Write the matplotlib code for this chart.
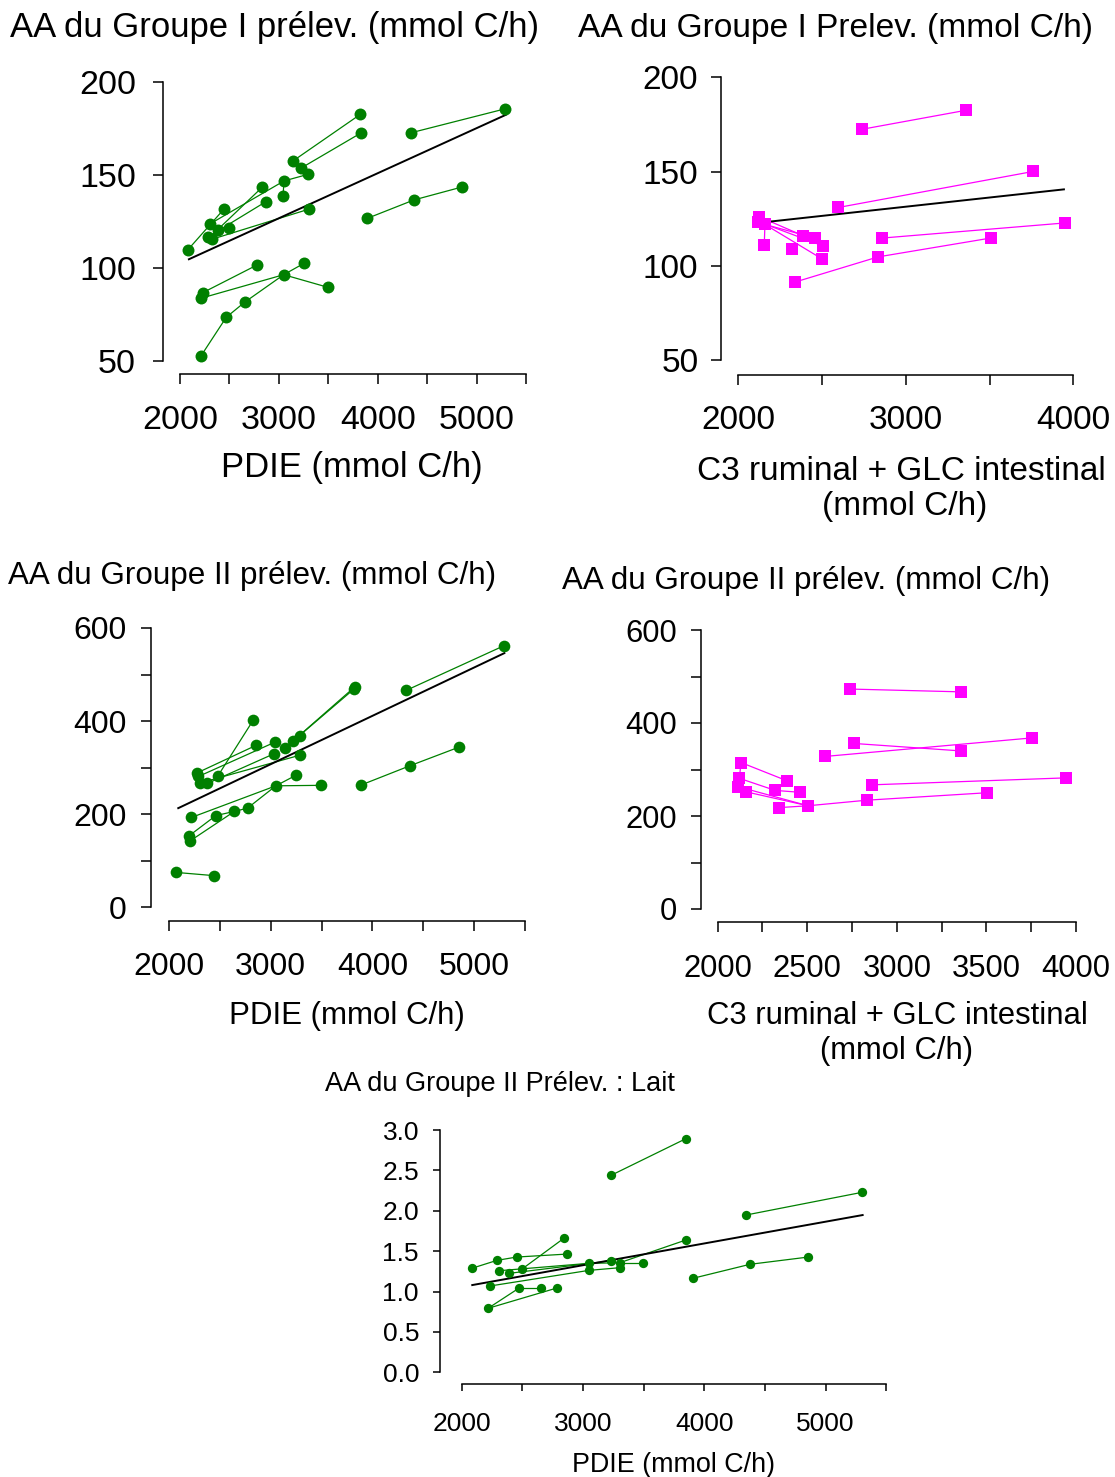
import matplotlib
matplotlib.use('Agg')
import matplotlib.pyplot as plt
from matplotlib.ticker import MultipleLocator, FormatStrFormatter, NullFormatter

plt.rcParams['font.family'] = ['Liberation Sans', 'DejaVu Sans']

# ---------------- DATA ----------------
# Panel 1 : AA Groupe I prélevés vs PDIE
pdie_g1 = [2078, 2303, 2445, 2381, 2492, 2287, 2320, 2833, 2867, 3052, 3042,
           3147, 3221, 3298, 3302, 3824, 3834, 4337, 5291, 3895, 4367, 4849,
           2212, 2468, 2654, 3049, 3254, 3497, 2779, 2229, 2209]
aa_g1 = [109.7, 123.7, 131.7, 120.6, 121.7, 116.8, 115.4, 143.5, 135.6, 146.8, 138.5,
         157.7, 153.6, 150.4, 131.6, 182.6, 172.7, 172.7, 185.6, 126.7, 136.6, 143.5,
         52.7, 73.5, 81.6, 96.4, 102.5, 89.6, 101.6, 86.7, 83.7]
links_g1 = [(0, 2), (1, 9), (3, 7), (5, 8), (6, 14), (9, 10), (9, 13), (11, 15), (12, 16),
            (17, 18), (19, 20), (20, 21), (22, 23), (23, 24), (24, 25), (25, 26),
            (25, 27), (29, 28), (30, 25)]
reg_g1_x = [2090, 5298]
reg_g1_y = [104.7, 182.4]

# Panel 2 : AA Groupe I prélevés vs C3 ruminal + GLC intestinal
c3glc_g1 = [2736, 3358, 3761, 2597, 3950, 2860, 3507, 2834, 2340, 2125, 2119,
            2159, 2155, 2319, 2388, 2458, 2507, 2499]
aa_g1_c3 = [172.4, 182.5, 150.1, 131.0, 122.8, 114.8, 114.8, 104.8, 91.5, 126.1, 123.5,
            122.0, 111.1, 109.0, 116.0, 114.8, 110.6, 103.8]
links_g1_c3 = [(0, 1), (3, 2), (5, 4), (8, 7), (7, 6), (9, 14), (11, 15), (10, 16),
               (11, 17), (11, 12)]
reg_g1_c3_x = [2125, 3944]
reg_g1_c3_y = [122.9, 140.6]

# Panel 3 : AA Groupe II prélevés vs PDIE
pdie_g2 = [2066, 2443, 5294, 4332, 4850, 4368, 3892, 3829, 3819, 3291, 3219,
           3140, 3044, 3034, 3291, 2828, 2857, 2279, 2289, 2305, 2377, 2483,
           3251, 3051, 3494, 2220, 2460, 2643, 2772, 2200, 2210]
aa_g2 = [75, 68, 562, 466, 344, 304, 263, 474, 469, 369, 357,
         342, 355, 330, 327, 402, 348, 289, 281, 267, 266, 283,
         284, 261, 262, 193, 197, 206, 213, 154, 143]
links_g2 = [(0, 1), (3, 2), (6, 5), (5, 4), (11, 7), (10, 8), (21, 15), (17, 16),
            (18, 12), (20, 13), (19, 14), (23, 22), (23, 24), (25, 23), (29, 26),
            (26, 27), (27, 28), (30, 27), (28, 23)]
reg_g2_x = [2091, 5297]
reg_g2_y = [213, 546]

# Panel 4 : AA Groupe II prélevés vs C3 ruminal + GLC intestinal
c3glc_g2 = [2738, 3356, 2761, 3356, 2597, 3756, 2130, 2385, 2121, 2115, 2158,
            2321, 2459, 2340, 2504, 2859, 3944, 2833, 3503]
aa_g2_c3 = [473, 467, 356, 340, 328, 368, 315, 276, 281, 263, 252,
            255, 251, 218, 222, 267, 282, 234, 250]
links_g2_c3 = [(0, 1), (2, 3), (4, 5), (15, 16), (13, 14), (14, 17), (17, 18),
               (6, 7), (6, 8), (8, 11), (11, 12), (9, 14), (10, 14)]

# Panel 5 : AA Groupe II prélevés : Lait vs PDIE
pdie_lait = [2082, 2291, 2453, 2870, 2841, 2310, 2390, 2497, 2231, 2217, 2470,
             2656, 2783, 3049, 3049, 3230, 3302, 3302, 3497, 3230, 3846, 3846,
             4343, 5299, 3904, 4376, 4857]
ratio_lait = [1.287, 1.386, 1.427, 1.464, 1.658, 1.258, 1.225, 1.278, 1.068, 0.792, 1.04,
              1.04, 1.043, 1.349, 1.262, 1.381, 1.356, 1.295, 1.356, 2.438, 2.891, 1.637,
              1.947, 2.228, 1.163, 1.337, 1.427]
links_lait = [(0, 1), (1, 2), (2, 3), (7, 4), (5, 13), (6, 15), (8, 14), (9, 10),
              (10, 11), (9, 12), (13, 16), (16, 18), (14, 17), (16, 21), (19, 20),
              (22, 23), (24, 25), (25, 26)]
reg_lait_x = [2087, 5305]
reg_lait_y = [1.080, 1.947]

GREEN = '#008000'
MAGENTA = '#FF00FF'

# ---------------- FIGURE ----------------
W, H, DPI = 1115, 1477, 100
fig = plt.figure(figsize=(W / DPI, H / DPI), dpi=DPI)
PT = 72.0 / DPI  # points per pixel


def add_ax(x0, x1, y0, y1):
    return fig.add_axes([x0 / W, 1 - y1 / H, (x1 - x0) / W, (y1 - y0) / H])


def style(ax, xlim, ylim, xmaj, xmin, ymaj, ymin, left_off, bot_off, fs,
          tlen, xpad, ypad, yfmt=None):
    ax.set_xlim(*xlim)
    ax.set_ylim(*ylim)
    ax.patch.set_alpha(0)
    for s in ('top', 'right'):
        ax.spines[s].set_visible(False)
    ax.spines['left'].set_position(('outward', left_off * PT))
    ax.spines['bottom'].set_position(('outward', bot_off * PT))
    for s in ('left', 'bottom'):
        ax.spines[s].set_linewidth(1.1)
    ax.xaxis.set_major_locator(MultipleLocator(xmaj))
    ax.xaxis.set_minor_locator(MultipleLocator(xmin))
    ax.yaxis.set_major_locator(MultipleLocator(ymaj))
    ax.yaxis.set_minor_locator(MultipleLocator(ymin))
    ax.xaxis.set_minor_formatter(NullFormatter())
    ax.yaxis.set_minor_formatter(NullFormatter())
    if yfmt:
        ax.yaxis.set_major_formatter(FormatStrFormatter(yfmt))
    ax.tick_params(axis='both', which='both', direction='out', length=tlen * PT,
                   width=1.1, labelsize=fs, color='black')
    ax.tick_params(axis='x', which='both', pad=xpad * PT)
    ax.tick_params(axis='y', which='both', pad=ypad * PT)


def draw(ax, xs, ys, links, color, marker, ms, reg_x=None, reg_y=None):
    for i, j in links:
        ax.plot([xs[i], xs[j]], [ys[i], ys[j]], color=color, lw=0.9,
                clip_on=False, zorder=2)
    if reg_x is not None:
        ax.plot(reg_x, reg_y, color='black', lw=1.4, clip_on=False, zorder=3)
    ax.plot(xs, ys, linestyle='none', marker=marker, ms=ms, color=color,
            markeredgewidth=0, clip_on=False, zorder=4)


# Panel 1
ax1 = add_ax(180, 526, 82, 361)
style(ax1, (2000, 5500), (50, 200), 1000, 500, 50, 50, 17, 13, 24.5, 10, 21, 17)
draw(ax1, pdie_g1, aa_g1, links_g1, GREEN, 'o', 8.6, reg_g1_x, reg_g1_y)

# Panel 2
ax2 = add_ax(738.3, 1073.3, 77.3, 360.3)
style(ax2, (2000, 4000), (50, 200), 1000, 500, 50, 50, 17, 15, 24, 10, 20, 13)
draw(ax2, c3glc_g1, aa_g1_c3, links_g1_c3, MAGENTA, 's', 9.0, reg_g1_c3_x, reg_g1_c3_y)

# Panel 3
ax3 = add_ax(169, 525, 628, 907.3)
style(ax3, (2000, 5500), (0, 600), 1000, 500, 200, 100, 18, 14, 23, 10, 21, 14)
draw(ax3, pdie_g2, aa_g2, links_g2, GREEN, 'o', 8.4, reg_g2_x, reg_g2_y)

# Panel 4
ax4 = add_ax(717.7, 1076, 630, 909)
style(ax4, (2000, 4000), (0, 600), 500, 250, 200, 100, 17, 13, 22.3, 10, 22, 14)
draw(ax4, c3glc_g2, aa_g2_c3, links_g2_c3, MAGENTA, 's', 8.6)

# Panel 5
ax5 = add_ax(461.7, 886.3, 1130, 1372.3)
style(ax5, (2000, 5500), (0, 3.0), 1000, 500, 0.5, 0.5, 21.7, 12, 19, 7.3, 20, 13.7, '%.1f')
draw(ax5, pdie_lait, ratio_lait, links_lait, GREEN, 'o', 6.7, reg_lait_x, reg_lait_y)

# ---------------- TEXT ----------------
def ftext(x, y, s, fs, ha='left'):
    fig.text(x / W, 1 - y / H, s, fontsize=fs, ha=ha, va='center')

ftext(10, 28, 'AA du Groupe I prélev. (mmol C/h)', 24.9)
ftext(578, 28, 'AA du Groupe I Prelev. (mmol C/h)', 24.1)
ftext(8, 576, 'AA du Groupe II prélev. (mmol C/h)', 22.6)
ftext(562, 581, 'AA du Groupe II prélev. (mmol C/h)', 22.6)
ftext(325, 1084, 'AA du Groupe II Prélev. : Lait', 19.5)

ftext(352, 467, 'PDIE (mmol C/h)', 24.9, 'center')
ftext(901, 471, 'C3 ruminal + GLC intestinal', 24, 'center')
ftext(905, 506, '(mmol C/h)', 24, 'center')
ftext(347, 1016, 'PDIE (mmol C/h)', 22.5, 'center')
ftext(897, 1016, 'C3 ruminal + GLC intestinal', 22.3, 'center')
ftext(896, 1051, '(mmol C/h)', 22.3, 'center')
ftext(673, 1465, 'PDIE (mmol C/h)', 19.4, 'center')

fig.savefig('out.png', dpi=DPI)
